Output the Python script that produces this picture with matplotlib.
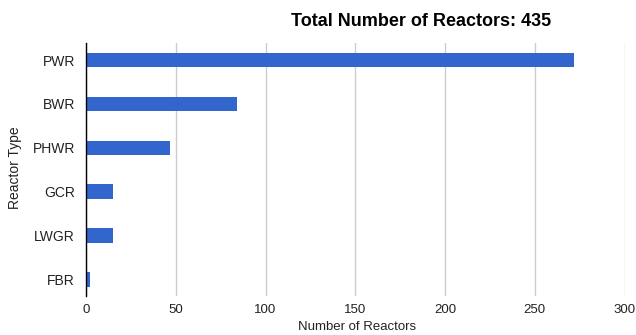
import matplotlib
matplotlib.use("Agg")
import matplotlib.pyplot as plt

categories = ["PWR", "BWR", "PHWR", "GCR", "LWGR", "FBR"]
reactors = [272, 84, 47, 15, 15, 2]
xticks = [0, 50, 100, 150, 200, 250, 300]
title = "Total Number of Reactors: 435"

plt.rcParams['font.family'] = ['Liberation Sans', 'DejaVu Sans']

W, H = 636, 335
fig = plt.figure(figsize=(W / 100, H / 100), dpi=100)
left, right, top, bottom = 86, 624.5, 43, 296
ax = fig.add_axes([left / W, 1 - bottom / H, (right - left) / W, (bottom - top) / H])

ypos = list(range(len(categories)))
ax.barh(ypos, reactors, height=0.33, color="#3366cc", zorder=3)
# map category centres: first at y=60px, spacing ~43.9px
y0, dy = 60, 43.9
ax.set_ylim((bottom - y0) / dy, (top - y0) / dy)
ax.set_xlim(0, 300)
ax.set_xticks(xticks)
ax.set_xticklabels([str(t) for t in xticks])
ax.set_yticks(ypos)
ax.set_yticklabels(categories)
ax.tick_params(axis='both', length=0, labelsize=10, colors="#222222")
ax.tick_params(axis='x', pad=6, labelsize=9.5)
ax.tick_params(axis='y', pad=8)
ax.grid(axis='x', color="#cccccc", linewidth=1, zorder=0)
for s in ["top", "right", "bottom"]:
    ax.spines[s].set_visible(False)
ax.spines["left"].set_color("#000000")
ax.spines["left"].set_linewidth(1)
ax.spines["left"].set_zorder(4)

fig.text(421 / W, 1 - 21 / H, title, ha="center", va="center",
         fontsize=13, fontweight="bold", color="#000000")
fig.text(357 / W, 1 - 327 / H, "Number of Reactors", ha="center", va="center",
         fontsize=9.5, color="#222222")
fig.text(15 / W, 1 - 168 / H, "Reactor Type", ha="center", va="center",
         rotation=90, fontsize=10, color="#222222")

fig.savefig("out.png", dpi=100)
